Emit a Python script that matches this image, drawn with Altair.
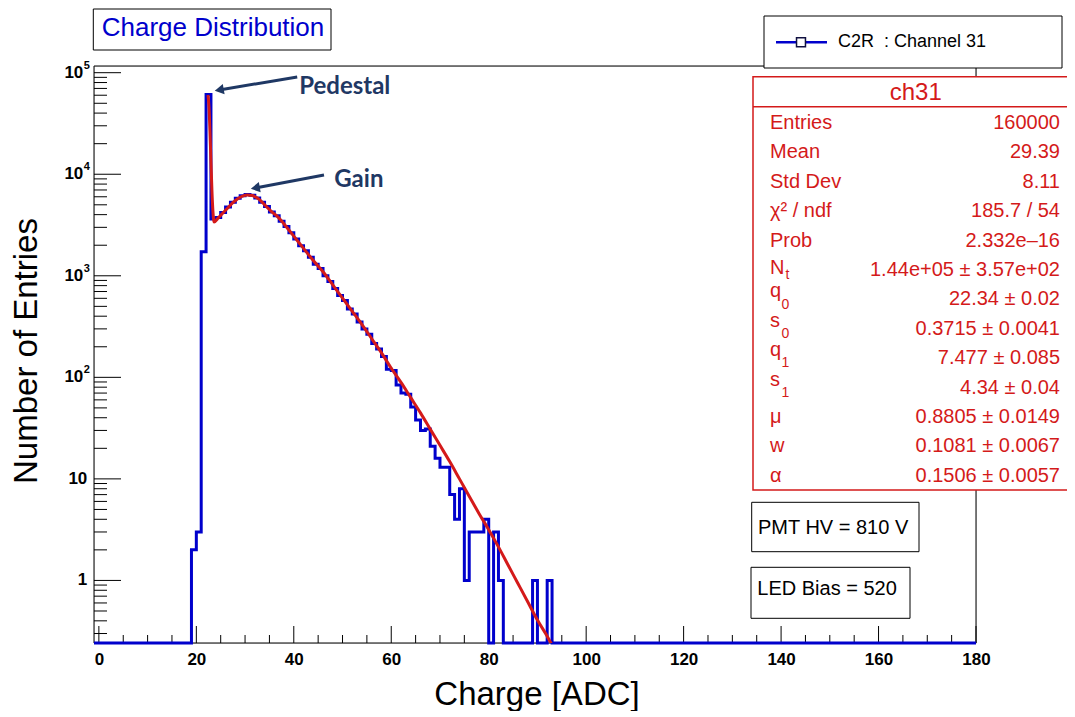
import altair as alt
import pandas as pd

# ---------------- data ----------------
first_bin = 19  # lower edge of first non-empty bin, bins are 1 ADC wide
counts = [2, 3, 1720, 61000, 3630, 3750, 4200, 4750, 5300, 5800, 6150, 6300, 6200,
          5850, 5300, 4800, 4250, 3900, 3450, 3050, 2650, 2300, 1980, 1760, 1520,
          1300, 1180, 1000, 880, 750, 640, 570, 470, 420, 350, 300, 265, 215, 190,
          160, 120, 117, 84, 70, 68, 51, 38, 30, 31, 21, 16, 13, 13, 7, 4, 8, 1,
          3, 3, 3, 4, 0, 3, 1, 0, 0, 0, 0, 0, 0, 1, 0, 0, 1]

fit_x = [22.4, 22.6, 22.8, 23.0, 23.2, 23.4, 23.65, 24.5, 25.5, 26.5, 27.5, 28.5,
         29.5, 30.5, 31.5, 32.5, 33.5, 34.5, 35.5, 36.5, 37.5, 38.5, 40, 42, 44,
         46, 48, 50, 52, 54, 56, 58, 60, 62, 64, 66, 68, 70, 72, 74, 76, 78, 80,
         82, 84, 86, 88, 90, 92, 94]
fit_y = [60300, 45700, 26300, 13200, 6920, 4365, 3390, 3715, 4170, 4680, 5250, 5750,
         6095, 6250, 6166, 5821, 5309, 4732, 4266, 3890, 3467, 3020, 2455, 1862, 1413,
         1096, 813, 603, 447, 331, 240, 174, 123, 89.1, 63.1, 44.7, 30.9, 21.4, 14.8,
         10.0, 6.76, 4.57, 3.16, 2.14, 1.41, 0.933, 0.617, 0.407, 0.282, 0.186]

x_major = [0, 20, 40, 60, 80, 100, 120, 140, 160, 180]
x_minor = [v for v in range(5, 180, 5) if v % 20 != 0]
y_major = [1, 10, 100, 1000, 10000, 100000]
y_base = ["1", "10", "10", "10", "10", "10"]
y_exp = ["", "", "2", "3", "4", "5"]
y_minor = [m * d for d in [0.1, 1, 10, 100, 1000, 10000] for m in range(2, 10)]

annot_text = ["Pedestal", "Gain"]
annot_x = [41.1, 48.3]
annot_y = [72300, 8790]
arrow_tail_x = [40.7, 46.2]
arrow_tail_y = [90800, 9840]
arrow_head_x = [24.7, 32.1]
arrow_head_y = [67600, 7330]

stat_title = "ch31"
stat_names = ["Entries", "Mean", "Std Dev", "χ² / ndf", "Prob", "N", "q", "s", "q", "s", "μ", "w", "α"]
stat_subs = ["", "", "", "", "", "t", "0", "0", "1", "1", "", "", ""]
stat_values = ["160000", "29.39", "8.11", "185.7 / 54", "2.332e–16",
               "1.44e+05 ± 3.57e+02", "22.34 ± 0.02", "0.3715 ± 0.0041",
               "7.477 ± 0.085", "4.34 ± 0.04", "0.8805 ± 0.0149",
               "0.1081 ± 0.0067", "0.1506 ± 0.0057"]

chart_title = "Charge Distribution"
legend_label = "C2R\u00a0 : Channel 31"
box_texts = ["PMT HV = 810 V", "LED Bias = 520"]
x_title = "Charge [ADC]"
y_title = "Number of Entries"

# ---------------- style ----------------
FONT = "Liberation Sans"
BLUE = "#0000cc"
RED = "#d41a1a"
NAVY = "#1f3864"
X_MIN, X_MAX = -1, 180
Y_MIN, Y_MAX = 0.242, 116400
W, H = 882, 577

xs = alt.Scale(domain=[X_MIN, X_MAX], nice=False, zero=False)
ys = alt.Scale(type="log", domain=[Y_MIN, Y_MAX], nice=False)
x_axis = alt.Axis(values=x_major, ticks=False, tickSize=0, domain=False, grid=False,
                  labelFont=FONT, labelFontWeight="bold", labelFontSize=17,
                  labelPadding=8, labelFlush=False, labelOverlap=False,
                  labelColor="black", title=None)


def X(f):
    return alt.X(f"{f}:Q", scale=xs, axis=x_axis)


def Y(f):
    return alt.Y(f"{f}:Q", scale=ys, axis=None)


one = alt.Data(values=[{}])


def hrule(y, x1, x2, color="black", sw=1):
    return alt.Chart(one).mark_rule(color=color, strokeWidth=sw).encode(
        y=alt.value(y), x=alt.value(x1), x2=alt.value(x2))


def vrule(x, y1, y2, color="black", sw=1):
    return alt.Chart(one).mark_rule(color=color, strokeWidth=sw).encode(
        x=alt.value(x), y=alt.value(y1), y2=alt.value(y2))


def box(x1, y1, x2, y2, stroke="black", sw=1):
    return alt.Chart(one).mark_rect(fill="white", stroke=stroke, strokeWidth=sw).encode(
        x=alt.value(x1), x2=alt.value(x2), y=alt.value(y1), y2=alt.value(y2))


def text(t, x, y, **kw):
    kw.setdefault("font", FONT)
    return alt.Chart(one).mark_text(**kw).encode(
        x=alt.value(x), y=alt.value(y), text=alt.value(t))


# ---------------- histogram ----------------
edges = list(range(X_MIN, X_MAX))
vals = [counts[k - first_bin] if first_bin <= k < first_bin + len(counts) else 0 for k in edges]
hist_df = pd.DataFrame({"edge": edges + [X_MAX], "count": vals + [vals[-1]]})
hist = alt.Chart(hist_df).transform_calculate(
    yc=f"max(datum.count, {Y_MIN})"
).mark_line(interpolate="step-after", color=BLUE, strokeWidth=3).encode(
    x=X("edge"), y=Y("yc"))

fit = alt.Chart(pd.DataFrame({"x": fit_x, "y": fit_y})).mark_line(
    color=RED, strokeWidth=3, clip=True, interpolate="monotone").encode(
    x=X("x"), y=Y("y"))

# ---------------- ticks (inside the frame, ROOT style) ----------------
ymaj_ticks = alt.Chart(pd.DataFrame({"v": y_major})).mark_rule(color="black", strokeWidth=1).encode(
    y=Y("v"), x=alt.value(0), x2=alt.value(27))
ymin_df = pd.DataFrame({"v": [v for v in y_minor if Y_MIN <= v <= Y_MAX]})
ymin_ticks = alt.Chart(ymin_df).mark_rule(color="black", strokeWidth=1).encode(
    y=Y("v"), x=alt.value(0), x2=alt.value(13))
xmaj_ticks = alt.Chart(pd.DataFrame({"v": x_major})).mark_rule(color="black", strokeWidth=1).encode(
    x=X("v"), y=alt.value(H), y2=alt.value(H - 17))
xmin_ticks = alt.Chart(pd.DataFrame({"v": x_minor})).mark_rule(color="black", strokeWidth=1).encode(
    x=X("v"), y=alt.value(H), y2=alt.value(H - 8))

ylab_df = pd.DataFrame({"v": y_major, "base": y_base, "exp": y_exp})
ylab_plain = alt.Chart(ylab_df).transform_filter("datum.exp == ''").mark_text(
    align="right", baseline="middle", font=FONT, fontWeight="bold", fontSize=17,
    color="black").encode(y=Y("v"), x=alt.value(-6.7), text="base:N")
ylab_base = alt.Chart(ylab_df).transform_filter("datum.exp != ''").mark_text(
    align="right", baseline="middle", font=FONT, fontWeight="bold", fontSize=17,
    color="black").encode(y=Y("v"), x=alt.value(-10.7), text="base:N")
ylab_exp = alt.Chart(ylab_df).transform_filter("datum.exp != ''").mark_text(
    align="left", baseline="middle", font=FONT, fontWeight="bold", fontSize=11,
    dy=-7, color="black").encode(y=Y("v"), x=alt.value(-10.2), text="exp:N")

# ---------------- frame ----------------
frame = [hrule(0, 0, W), hrule(H, 0, W), vrule(0, 0, H), vrule(W, 0, H)]

# ---------------- annotations ----------------
arrow_df = pd.DataFrame({"x0": arrow_tail_x, "y0": arrow_tail_y,
                         "x1": arrow_head_x, "y1": arrow_head_y})
arrow_lines = alt.Chart(arrow_df).mark_rule(color=NAVY, strokeWidth=3).encode(
    x=X("x0"), x2=alt.X2("x1"), y=Y("y0"), y2=alt.Y2("y1"))
arrow_heads = alt.Chart(arrow_df).mark_point(
    shape="triangle-left", filled=True, size=110, angle=350, color=NAVY, opacity=1).encode(
    x=X("x1"), y=Y("y1"))
annot_df = pd.DataFrame({"x": annot_x, "y": annot_y, "t": annot_text})
annots = alt.Chart(annot_df).mark_text(
    align="left", baseline="middle", font="Lato", fontWeight="bold", fontSize=24,
    color=NAVY).encode(x=X("x"), y=Y("y"), text="t:N")

# ---------------- title box ----------------
title_box = box(-0.7, -57, 237, -16)
title_txt = text(chart_title, 119, -37.7, align="center", baseline="middle",
                 fontSize=26, color=BLUE)

# ---------------- legend ----------------
leg_box = box(670, -50, 968, 2)
leg_line = hrule(-23.7, 682, 733, color=BLUE, sw=2.5)
leg_mark = alt.Chart(one).mark_point(shape="square", filled=True, fill="white", size=80,
                                     stroke="#101040", strokeWidth=1.5, opacity=1).encode(
    x=alt.value(707), y=alt.value(-23.7))
leg_txt = text(legend_label, 744, -23.7, align="left", baseline="middle",
               fontSize=18, color="black")

# ---------------- stats box ----------------
stat_layers = [
    box(659, 10.7, 995, 424, stroke=RED, sw=1.5),
    hrule(40.7, 659, 995, color=RED, sw=1.5),
    text(stat_title, 821.7, 27.3, align="center", baseline="middle", fontSize=24, color=RED),
]
LH = 29.4
BASE0 = 62.9  # baseline of the first row (plot pixels)
for i, (nm, sb, vl) in enumerate(zip(stat_names, stat_subs, stat_values)):
    base = BASE0 + i * LH
    raise_px = 8 if sb not in ("", "t") else (2 if sb == "t" else 0)
    stat_layers.append(text(nm, 676, base - raise_px, align="left", baseline="alphabetic",
                            fontSize=20, color=RED))
    if sb:
        sub_x = 691.5 if sb == "t" else 687.5
        stat_layers.append(text(sb, sub_x, base + 3.3, align="left", baseline="alphabetic",
                                fontSize=14, color=RED))
    stat_layers.append(text(vl, 966, base, align="right", baseline="alphabetic",
                            fontSize=20, color=RED))

# ---------------- info boxes ----------------
pmt_box = box(657.7, 436.3, 825, 485.7)
pmt_txt = text(box_texts[0], 664, 461.5, align="left", baseline="middle", fontSize=20, color="black")
led_box = box(657, 501.3, 816, 552.3)
led_txt = text(box_texts[1], 663.3, 522.5, align="left", baseline="middle", fontSize=20, color="black")

# ---------------- axis titles ----------------
xt = text(x_title, 443, 629, align="center", baseline="middle", fontSize=33, color="black")
yt = text(y_title, -67, 285, align="center", baseline="middle", fontSize=33, color="black",
          angle=270)

chart = alt.layer(
    xmin_ticks, xmaj_ticks, ymin_ticks, ymaj_ticks, *frame,
    hist, fit,
    ylab_plain, ylab_base, ylab_exp,
    arrow_lines, arrow_heads, annots,
    title_box, title_txt,
    *stat_layers,
    leg_box, leg_line, leg_mark, leg_txt,
    pmt_box, pmt_txt, led_box, led_txt,
    xt, yt,
).properties(
    width=W, height=H,
    autosize=alt.AutoSizeParams(type="none"),
    padding={"left": 86, "top": 58, "right": 91, "bottom": 68},
).configure_view(stroke=None).configure(background="white")

chart.save("out.html", embed_options={"renderer": "svg", "actions": False})
